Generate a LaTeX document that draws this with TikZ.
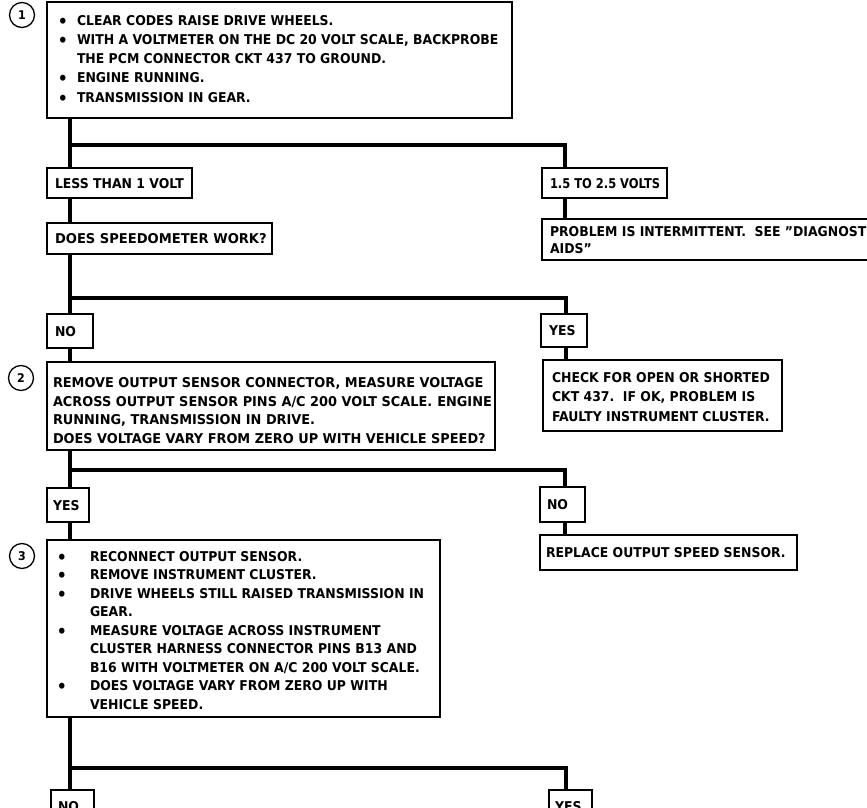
\documentclass[tikz,border=0pt]{standalone}
\usepackage{fontspec}
\setmainfont{DejaVu Sans}[FakeStretch=0.922]
\newfontfamily\widefont{DejaVu Sans}[FakeStretch=0.97]
\newfontfamily\boxtwofont{DejaVu Sans}[FakeStretch=0.955]
\newfontfamily\narrowfont{DejaVu Sans}[FakeStretch=0.85]
% #1 width, #2 height, #3 top pad, #4 left pad, #5 baselineskip, #6 content
\newcommand{\bxt}[6]{\parbox[c][#2][t]{#1}{\fontsize{13.5}{#5}\selectfont\raggedright\leftskip=#4\relax\rightskip=-300pt plus 1fil\relax\parindent=0pt\parskip=0pt\vspace*{#3}#6}}
\newcommand{\itm}[2]{\par\hangindent=#1\relax\hangafter=1\noindent\makebox[#1][l]{\makebox[8pt][c]{\fontsize{17}{17}\selectfont\raisebox{-2pt}{•}}}#2\par}
\tikzset{
  box/.style={draw, line width=1.3pt, fill=white, inner sep=0pt, outer sep=0pt, anchor=north west, font=\bfseries},
  conn/.style={line width=4.8pt, line join=miter},
  numc/.style={circle, draw, line width=1.3pt, minimum size=25pt, inner sep=0pt, font=\bfseries\fontsize{12}{12}\selectfont}
}
\begin{document}
\begin{tikzpicture}[x=1pt,y=-1pt]
\useasboundingbox (0,0) rectangle (867,808);
\fill[white] (0,0) rectangle (867,808);
\clip (0,0) rectangle (867,808);

% numbered circles
\node[numc] (n1) at (22,15) {1};
\node[numc] (n2) at (21,378) {2};
\node[numc] (n3) at (22,556) {3};

% boxes
\node[box] (b1) at (47,2) {\bxt{465pt}{116pt}{13pt}{12pt}{19.3}{%
\itm{18pt}{CLEAR CODES RAISE DRIVE WHEELS.}
\itm{18pt}{WITH A VOLTMETER ON THE DC 20 VOLT SCALE, BACKPROBE\newline THE PCM CONNECTOR CKT 437 TO GROUND.}
\itm{18pt}{ENGINE RUNNING.}
\itm{18pt}{TRANSMISSION IN GEAR.}}};

\node[box] (less) at (47,168) {\bxt{145pt}{30pt}{10pt}{8pt}{19}{LESS THAN 1 VOLT}};
\node[box] (v15) at (542,168) {\bxt{125pt}{30pt}{10pt}{8pt}{19}{\narrowfont 1.5 TO 2.5 VOLTS}};
\node[box] (does) at (47,223) {\bxt{225pt}{31pt}{10.5pt}{8pt}{19}{\widefont DOES SPEEDOMETER WORK?}};
\node[box] (prob) at (542,219) {\bxt{400pt}{41pt}{7pt}{8pt}{17}{PROBLEM IS INTERMITTENT.\ \ SEE \char"22 DIAGNOSTIC\newline AIDS\char"22}};

\node[box] (no2) at (47,314) {\bxt{46pt}{34pt}{12.5pt}{8pt}{19}{NO}};
\node[box] (yes2) at (541,314) {\bxt{46pt}{33pt}{11.5pt}{8pt}{19}{YES}};

\node[box] (b2) at (47,362) {\bxt{448pt}{88pt}{15.5pt}{6pt}{18.5}{\boxtwofont
REMOVE OUTPUT SENSOR CONNECTOR, MEASURE VOLTAGE\newline
ACROSS OUTPUT SENSOR PINS A/C 200 VOLT SCALE.\hspace{5pt}ENGINE\newline
RUNNING, TRANSMISSION IN DRIVE.\newline
DOES VOLTAGE VARY FROM ZERO UP WITH VEHICLE SPEED?}};
\node[box] (chk) at (543,360) {\bxt{239pt}{71pt}{12pt}{9pt}{19.5}{%
CHECK FOR OPEN OR SHORTED\newline
CKT 437.\ \ IF OK, PROBLEM IS\newline
FAULTY INSTRUMENT CLUSTER.}};

\node[box] (yes3) at (47,488) {\bxt{42pt}{34pt}{12pt}{6pt}{19}{YES}};
\node[box] (no3) at (540,487) {\bxt{45pt}{35pt}{12.5pt}{7pt}{19}{NO}};

\node[box] (b3) at (47,540) {\bxt{393pt}{177pt}{11pt}{11pt}{18.5}{%
\itm{32pt}{RECONNECT OUTPUT SENSOR.}
\itm{32pt}{REMOVE INSTRUMENT CLUSTER.}
\itm{32pt}{DRIVE WHEELS STILL RAISED TRANSMISSION IN\newline GEAR.}
\itm{32pt}{MEASURE VOLTAGE ACROSS INSTRUMENT\newline CLUSTER HARNESS CONNECTOR PINS B13 AND\newline B16 WITH VOLTMETER ON A/C 200 VOLT SCALE.}
\itm{32pt}{DOES VOLTAGE VARY FROM ZERO UP WITH\newline VEHICLE SPEED.}}};
\node[box] (rep) at (540,535) {\bxt{257pt}{35pt}{12.5pt}{6pt}{19}{REPLACE OUTPUT SPEED SENSOR.}};

\node[box] (no4) at (51,790) {\bxt{43pt}{34pt}{11.5pt}{7pt}{19}{NO}};
\node[box] (yes4) at (549,790) {\bxt{43pt}{34pt}{11.5pt}{6pt}{19}{YES}};

% junction coordinates
\coordinate (j1) at (70,145);  \coordinate (r1) at (565,145);
\coordinate (j2) at (70,298);  \coordinate (r2) at (566,298);
\coordinate (j3) at (70,470);  \coordinate (r3) at (565,470);
\coordinate (j4) at (70,768);  \coordinate (r4) at (566,768);

% connectors
\draw[conn] (b1.south -| j1) -- (j1) -- (less.north -| j1);
\draw[conn] (j1) -- (r1) -- (v15.north -| r1);
\draw[conn] (less.south -| j1) -- (does.north -| j1);
\draw[conn] (v15.south -| r1) -- (prob.north -| r1);

\draw[conn] (does.south -| j2) -- (j2) -- (no2.north -| j2);
\draw[conn] (j2) -- (r2) -- (yes2.north -| r2);
\draw[conn] (no2.south -| j2) -- (b2.north -| j2);
\draw[conn] (yes2.south -| r2) -- (chk.north -| r2);

\draw[conn] (b2.south -| j3) -- (j3) -- (yes3.north -| j3);
\draw[conn] (j3) -- (r3) -- (no3.north -| r3);
\draw[conn] (yes3.south -| j3) -- (b3.north -| j3);
\draw[conn] (no3.south -| r3) -- (rep.north -| r3);

\draw[conn] (b3.south -| j4) -- (j4) -- (no4.north -| j4);
\draw[conn] (j4) -- (r4) -- (yes4.north -| r4);
\end{tikzpicture}
\end{document}
